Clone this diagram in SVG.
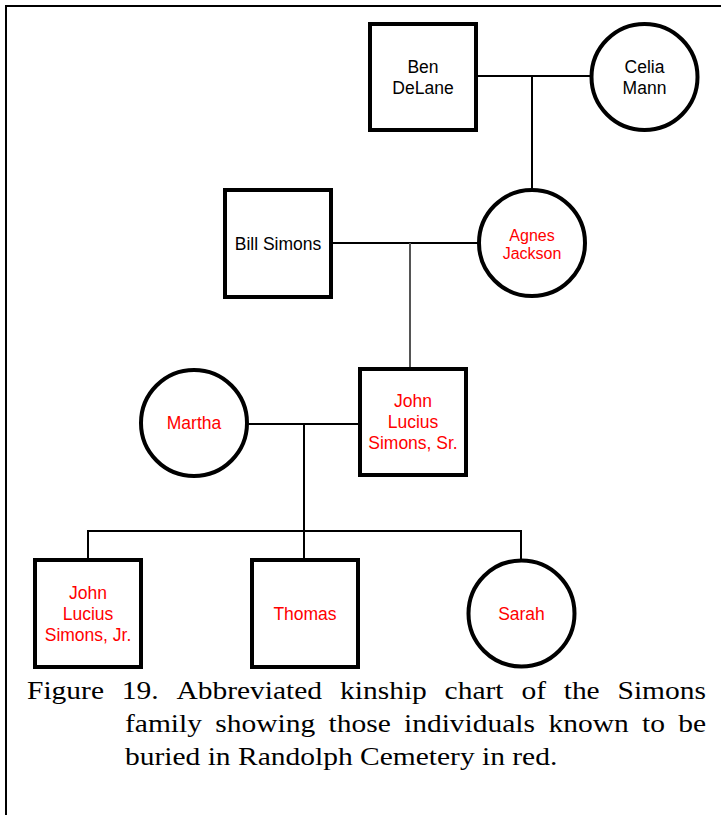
<svg xmlns="http://www.w3.org/2000/svg" width="721" height="815" viewBox="0 0 721 815">
<style>
.box{fill:#fff;stroke:#000;stroke-width:4}
.lbl{font-family:"Liberation Sans",Arial,sans-serif;font-size:17.5px;text-anchor:middle}
.blk{fill:#000}
.red{fill:#ff0000}
.con{stroke:#000;stroke-width:2;fill:none}
.cap{font-family:"Liberation Serif","Times New Roman",serif;font-size:25px;fill:#000}
</style>
<rect x="0" y="0" width="721" height="815" fill="#fff"/>
<path d="M6,815 V6 H721" fill="none" stroke="#000" stroke-width="2"/>
<g id="connectors">
<path class="con" d="M476,76 H591"/>
<path class="con" d="M532,76 V190"/>
<path class="con" d="M331,243 H479"/>
<path class="con" d="M410,243 V369" style="stroke:#555"/>
<path class="con" d="M247,424 H360"/>
<path class="con" d="M304,424 V560"/>
<path class="con" d="M88,531 H521"/>
<path class="con" d="M88,530 V560"/>
<path class="con" d="M521,530 V560"/>
</g>
<g id="ben-delane">
<rect class="box" x="370" y="24" width="106" height="106"/>
<text class="lbl blk" x="423" y="73">Ben</text>
<text class="lbl blk" x="423" y="94">DeLane</text>
</g>
<g id="celia-mann">
<circle class="box" cx="644.5" cy="77" r="53"/>
<text class="lbl blk" x="644.5" y="73">Celia</text>
<text class="lbl blk" x="644.5" y="94">Mann</text>
</g>
<g id="bill-simons">
<rect class="box" x="225" y="190" width="106" height="107"/>
<text class="lbl blk" x="278" y="250">Bill Simons</text>
</g>
<g id="agnes-jackson">
<circle class="box" cx="532" cy="243" r="53"/>
<text class="lbl red" x="532" y="241" style="font-size:16px">Agnes</text>
<text class="lbl red" x="532" y="259" style="font-size:16px">Jackson</text>
</g>
<g id="martha">
<circle class="box" cx="194" cy="423" r="53"/>
<text class="lbl red" x="194" y="429">Martha</text>
</g>
<g id="john-sr">
<rect class="box" x="360" y="369" width="106" height="106"/>
<text class="lbl red" x="413" y="407">John</text>
<text class="lbl red" x="413" y="428">Lucius</text>
<text class="lbl red" x="413" y="449">Simons, Sr.</text>
</g>
<g id="john-jr">
<rect class="box" x="35" y="560" width="106" height="107"/>
<text class="lbl red" x="88" y="599">John</text>
<text class="lbl red" x="88" y="620">Lucius</text>
<text class="lbl red" x="88" y="641">Simons, Jr.</text>
</g>
<g id="thomas">
<rect class="box" x="252" y="560" width="106" height="107"/>
<text class="lbl red" x="305" y="620">Thomas</text>
</g>
<g id="sarah">
<circle class="box" cx="521.5" cy="613.5" r="53"/>
<text class="lbl red" x="521.5" y="620">Sarah</text>
</g>
<g id="caption" transform="scale(1.18,1)">
<text class="cap" y="699"><tspan x="22.88">Figure</tspan> <tspan x="103.22">19.</tspan> <tspan x="149.49">Abbreviated</tspan> <tspan x="288.14">kinship</tspan> <tspan x="376.78">chart</tspan> <tspan x="441.86">of</tspan> <tspan x="477.71">the</tspan> <tspan x="523.31">Simons</tspan></text>
<text class="cap" y="732"><tspan x="105.93">family</tspan> <tspan x="182.46">showing</tspan> <tspan x="278.39">those</tspan> <tspan x="342.37">individuals</tspan> <tspan x="464.75">known</tspan> <tspan x="544.07">to</tspan> <tspan x="574.75">be</tspan></text>
<text class="cap" x="105.93" y="765">buried in Randolph Cemetery in red.</text>
</g>
</svg>
